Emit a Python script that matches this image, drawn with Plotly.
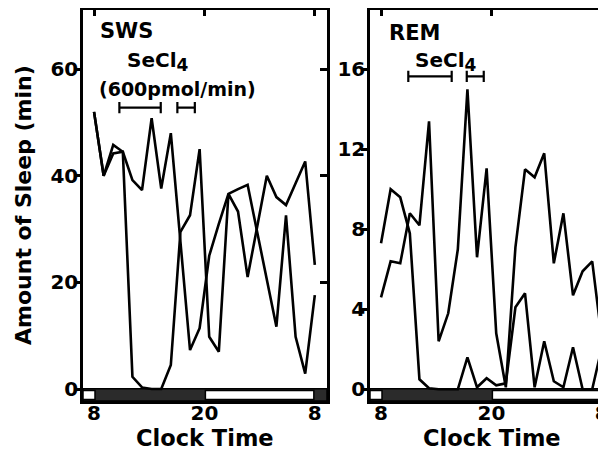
import plotly.graph_objects as go

# hourly bins from 8:00 to 8:00 next day (index units)
bins = list(range(24))
tick_pos = [0, 11.5, 23]
tick_text = ['8', '20', '8']

# Slow-wave sleep (min per hour)
sws_secl4 = [52, 40, 45.8, 44.5, 2.3, 0.3, 0, 0, 4.5, 29.5, 32.6, 45, 9.8, 7,
             36.6, 33.3, 21, 30.5, 40, 36, 34.5, 38.6, 42.7, 23.3]
sws_base = [52, 40, 44.2, 44.5, 39.2, 37.3, 50.8, 37.6, 48, 27.5, 7.3, 11.4, 25, 31,
            36.6, 37.5, 38.3, 29.4, 20.6, 11.7, 32.6, 9.8, 2.9, 17.6]

# REM sleep (min per hour)
rem_secl4 = [7.3, 10.0, 9.6, 7.8, 0.5, 0.05, 0, 0, 0, 1.6, 0.1, 0.55, 0.2, 0.3,
             4.1, 4.8, 0.1, 2.4, 0.4, 0.1, 2.1, 0, 0, 2.1]
rem_base = [4.6, 6.4, 6.3, 8.8, 8.2, 13.4, 2.4, 3.8, 7.0, 15.0, 6.6, 11.05, 2.8, 0.1,
            7.1, 11.0, 10.6, 11.8, 6.3, 8.8, 4.7, 5.9, 6.4, 2.5]

# infusion periods (bin units) and bar levels
sws_inf_start = [2.64, 8.68]
sws_inf_end = [6.95, 10.5]
sws_inf_level = 52.8
rem_inf_start = [2.84, 8.93]
rem_inf_end = [7.36, 10.7]
rem_inf_level = 15.65

# light/dark schedule (bin units)
light_start = [-1.15, 11.6]
light_end = [0.1, 22.9]

FONT = "DejaVu Sans"
W, H = 606, 452
OFF = 8  # default page body margin
LW = 2.5


def fx(px):
    return (px - OFF) / W


def fy(py):
    return 1 - (py - OFF) / H


fig = go.Figure()

for ser in (sws_base, sws_secl4):
    fig.add_trace(go.Scatter(x=bins, y=ser, mode='lines', line=dict(color='black', width=2.6),
                             xaxis='x', yaxis='y', showlegend=False, hoverinfo='skip'))
for ser in (rem_base, rem_secl4):
    fig.add_trace(go.Scatter(x=bins, y=ser, mode='lines', line=dict(color='black', width=2.6),
                             xaxis='x2', yaxis='y2', showlegend=False, hoverinfo='skip'))

# infusion bars
for s, e in zip(sws_inf_start, sws_inf_end):
    fig.add_trace(go.Scatter(x=[s, e], y=[sws_inf_level, sws_inf_level], mode='lines+markers',
                             line=dict(color='black', width=2.2),
                             marker=dict(symbol='line-ns-open', size=8, line=dict(width=2.2, color='black')),
                             xaxis='x', yaxis='y', showlegend=False, hoverinfo='skip'))
for s, e in zip(rem_inf_start, rem_inf_end):
    fig.add_trace(go.Scatter(x=[s, e], y=[rem_inf_level, rem_inf_level], mode='lines+markers',
                             line=dict(color='black', width=2.2),
                             marker=dict(symbol='line-ns-open', size=8, line=dict(width=2.2, color='black')),
                             xaxis='x2', yaxis='y2', showlegend=False, hoverinfo='skip'))

# dummy traces for mirrored (inside) tick axes
fig.add_trace(go.Scatter(x=[None], y=[None], xaxis='x3', yaxis='y', showlegend=False, hoverinfo='skip'))
fig.add_trace(go.Scatter(x=[None], y=[None], xaxis='x', yaxis='y3', showlegend=False, hoverinfo='skip'))
fig.add_trace(go.Scatter(x=[None], y=[None], xaxis='x4', yaxis='y2', showlegend=False, hoverinfo='skip'))

ydom = [fy(401), fy(9.5)]
x1dom = [fx(83), fx(327)]
x2dom = [fx(370), 1.0]
x1range = [-1.15, 24.27]
x2range = [-1.15, 24.27]
y1range = [-2.25, 71.2]
y2range = [-0.585, 18.99]

tickfont = dict(family=FONT, size=20, color='black', weight='bold')

common_x = dict(showgrid=False, zeroline=False, showline=True, linecolor='black', linewidth=LW,
                tickvals=tick_pos, ticktext=tick_text, ticks='', tickfont=tickfont,
                ticklabelstandoff=-8)
common_y = dict(showgrid=False, zeroline=False, showline=True, linecolor='black', linewidth=LW,
                ticks='outside', ticklen=6, tickwidth=LW, tickcolor='black', tickfont=tickfont,
                ticklabelstandoff=-8)
top_x = dict(showgrid=False, zeroline=False, showline=True, linecolor='black', linewidth=LW,
             tickvals=tick_pos, ticks='inside', ticklen=7, tickwidth=LW, tickcolor='black',
             showticklabels=False, side='top')

fig.update_layout(
    width=W, height=H, autosize=False,
    margin=dict(l=0, r=0, t=0, b=0, pad=0),
    paper_bgcolor='white', plot_bgcolor='white',
    xaxis=dict(domain=x1dom, range=x1range, anchor='y', **common_x),
    yaxis=dict(domain=ydom, range=y1range, anchor='x', tickvals=[0, 20, 40, 60], **common_y),
    xaxis2=dict(domain=x2dom, range=x2range, anchor='y2', **common_x),
    yaxis2=dict(domain=ydom, range=y2range, anchor='x2', tickvals=[0, 4, 8, 12, 16], **common_y),
    xaxis3=dict(overlaying='x', anchor='y', range=x1range, **top_x),
    yaxis3=dict(overlaying='y', anchor='x', side='right', range=y1range, showgrid=False, zeroline=False,
                showline=True, linecolor='black', linewidth=LW, tickvals=[20, 40, 60], ticks='inside',
                ticklen=7, tickwidth=LW, tickcolor='black', showticklabels=False),
    xaxis4=dict(overlaying='x2', anchor='y2', range=x2range, **top_x),
)

# light/dark bars
bar_top = 0.031
for xr, yr in (('x', 'y domain'), ('x2', 'y2 domain')):
    fig.add_shape(type='rect', xref=xr, yref=yr, x0=x1range[0], x1=x1range[1], y0=0, y1=bar_top,
                  fillcolor='#2b2b2b', line=dict(color='black', width=1.5), layer='below')
    for s, e in zip(light_start, light_end):
        fig.add_shape(type='rect', xref=xr, yref=yr, x0=s, x1=e, y0=0.004, y1=bar_top - 0.004,
                      fillcolor='white', line=dict(color='black', width=1.5), layer='below')

secl4 = 'SeCl<sub><span style="font-size:17px">4</span></sub>'
title_font = dict(family=FONT, size=21, color='black', weight='bold')
fig.add_annotation(x=0.42, y=67.2, xref='x', yref='y', text='SWS', showarrow=False,
                   xanchor='left', yanchor='middle', font=title_font)
fig.add_annotation(x=0.6, y=17.8, xref='x2', yref='y2', text='REM', showarrow=False,
                   xanchor='left', yanchor='middle', font=title_font)
fig.add_annotation(x=6.7, y=61.5, xref='x', yref='y', text=secl4, showarrow=False,
                   xanchor='center', yanchor='middle', font=dict(family=FONT, size=20, color='black', weight='bold'))
fig.add_annotation(x=8.7, y=56.3, xref='x', yref='y', text='(600pmol/min)', showarrow=False,
                   xanchor='center', yanchor='middle', font=dict(family=FONT, size=19, color='black', weight='bold'))
fig.add_annotation(x=6.75, y=16.4, xref='x2', yref='y2', text=secl4, showarrow=False,
                   xanchor='center', yanchor='middle', font=dict(family=FONT, size=20, color='black', weight='bold'))

fig.add_annotation(x=fx(23), y=fy(205), xref='paper', yref='paper', text='Amount of Sleep (min)',
                   textangle=-90, showarrow=False, xanchor='center', yanchor='middle',
                   font=dict(family=FONT, size=22, color='black', weight='bold'))
fig.add_annotation(x=fx(205), y=fy(438), xref='paper', yref='paper', text='Clock Time',
                   showarrow=False, xanchor='center', yanchor='middle',
                   font=dict(family=FONT, size=22.5, color='black', weight='bold'))
fig.add_annotation(x=fx(492), y=fy(438), xref='paper', yref='paper', text='Clock Time',
                   showarrow=False, xanchor='center', yanchor='middle',
                   font=dict(family=FONT, size=22.5, color='black', weight='bold'))

fig.write_html("out.html")
